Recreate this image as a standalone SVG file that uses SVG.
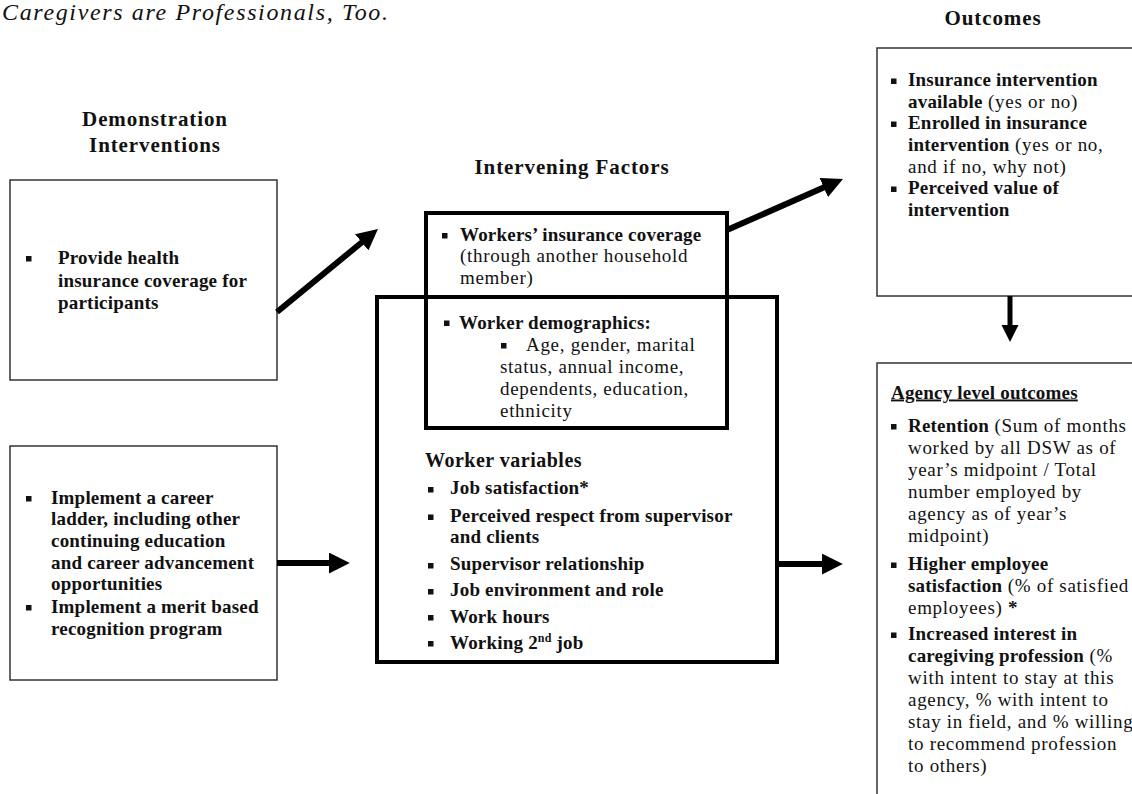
<svg xmlns="http://www.w3.org/2000/svg" width="1132" height="794" viewBox="0 0 1132 794">
<defs>
<style>
text{font-family:"Liberation Serif","Times New Roman",serif;fill:#111;}
.h{font-size:21px;font-weight:bold;letter-spacing:0.9px;text-anchor:middle;}
.b{font-size:19px;font-weight:bold;letter-spacing:0.2px;}
.r{font-size:19px;font-weight:normal;letter-spacing:0.7px;}
.thin{fill:#fff;stroke:#333;stroke-width:1.5;}
.thick{fill:none;stroke:#000;stroke-width:4;}
.bul{fill:#111;}
.arr{stroke:#000;stroke-width:6;fill:none;marker-end:url(#ah);}
</style>
<marker id="ah" viewBox="0 0 10 10" refX="2" refY="5" markerWidth="3.5" markerHeight="3.5" markerUnits="strokeWidth" orient="auto">
<path d="M0,0 L10,5 L0,10 z" fill="#000"/>
</marker>
</defs>
<rect width="1132" height="794" fill="#fff"/>

<text x="2" y="20" textLength="386" lengthAdjust="spacing" style="font-size:24px;font-style:italic">Caregivers are Professionals, Too.</text>

<g id="headings">
<text class="h" x="155" y="126">Demonstration</text>
<text class="h" x="155" y="152">Interventions</text>
<text class="h" x="572" y="174">Intervening Factors</text>
<text class="h" x="993" y="25">Outcomes</text>
</g>

<g id="intervention-insurance">
<rect class="thin" x="10" y="180" width="267" height="200"/>
<rect class="bul" x="26" y="256" width="5.5" height="5.5"/>
<text class="b" x="58" y="264">Provide health</text>
<text class="b" x="58" y="286.5">insurance coverage for</text>
<text class="b" x="58" y="309">participants</text>
</g>

<g id="intervention-career">
<rect class="thin" x="10" y="446" width="267" height="234"/>
<rect class="bul" x="26" y="496" width="5.5" height="5.5"/>
<text class="b" x="51" y="503.5">Implement a career</text>
<text class="b" x="51" y="525">ladder, including other</text>
<text class="b" x="51" y="547">continuing education</text>
<text class="b" x="51" y="568.5">and career advancement</text>
<text class="b" x="51" y="590">opportunities</text>
<rect class="bul" x="26" y="605" width="5.5" height="5.5"/>
<text class="b" x="51" y="612.5">Implement a merit based</text>
<text class="b" x="51" y="634.5">recognition program</text>
</g>

<g id="worker-variables">
<rect class="thick" x="377" y="297" width="400" height="365"/>
<text x="425" y="466.5" style="font-size:20px;font-weight:bold;letter-spacing:0.5px">Worker variables</text>
<rect class="bul" x="428" y="487" width="5.5" height="5.5"/>
<text class="b" x="450" y="494">Job satisfaction*</text>
<rect class="bul" x="428" y="514.5" width="5.5" height="5.5"/>
<text class="b" x="450" y="521.5">Perceived respect from supervisor</text>
<text class="b" x="450" y="542.5">and clients</text>
<rect class="bul" x="428" y="563" width="5.5" height="5.5"/>
<text class="b" x="450" y="570">Supervisor relationship</text>
<rect class="bul" x="428" y="589" width="5.5" height="5.5"/>
<text class="b" x="450" y="596">Job environment and role</text>
<rect class="bul" x="428" y="615" width="5.5" height="5.5"/>
<text class="b" x="450" y="622.5">Work hours</text>
<rect class="bul" x="428" y="641" width="5.5" height="5.5"/>
<text class="b" x="450" y="648.5">Working 2<tspan style="font-size:12px" dy="-7">nd</tspan><tspan dy="7"> job</tspan></text>
</g>

<g id="insurance-coverage">
<rect class="thick" x="426" y="213" width="301" height="215"/>
<rect class="bul" x="442" y="233" width="5.5" height="5.5"/>
<text class="b" x="460" y="241">Workers’ insurance coverage</text>
<text class="r" x="460" y="262">(through another household</text>
<text class="r" x="460" y="283.5">member)</text>
<rect class="bul" x="444" y="320.5" width="5.5" height="5.5"/>
<text class="b" x="459" y="328.5">Worker demographics:</text>
<rect class="bul" x="501" y="343" width="5.5" height="5.5"/>
<text class="r" x="526" y="350.5">Age, gender, marital</text>
<text class="r" x="500" y="372.5">status, annual income,</text>
<text class="r" x="500" y="394.5">dependents, education,</text>
<text class="r" x="500" y="416.5">ethnicity</text>
</g>

<g id="outcomes-insurance">
<rect class="thin" x="877" y="48" width="300" height="248"/>
<rect class="bul" x="891" y="78.5" width="5.5" height="5.5"/>
<text class="b" x="908" y="86">Insurance intervention</text>
<text x="908" y="107.5"><tspan class="b">available</tspan><tspan class="r"> (yes or no)</tspan></text>
<rect class="bul" x="891" y="121.5" width="5.5" height="5.5"/>
<text class="b" x="908" y="129">Enrolled in insurance</text>
<text x="908" y="150.5"><tspan class="b">intervention</tspan><tspan class="r"> (yes or no,</tspan></text>
<text class="r" x="908" y="172.5">and if no, why not)</text>
<rect class="bul" x="891" y="186.5" width="5.5" height="5.5"/>
<text class="b" x="908" y="194">Perceived value of</text>
<text class="b" x="908" y="215.5">intervention</text>
</g>

<g id="outcomes-agency">
<rect class="thin" x="877" y="363" width="300" height="500"/>
<text class="b" x="891" y="398.5" style="text-decoration:underline">Agency level outcomes</text>
<rect class="bul" x="891" y="424" width="5.5" height="5.5"/>
<text x="908" y="431.5"><tspan class="b">Retention</tspan><tspan class="r"> (Sum of months</tspan></text>
<text class="r" x="908" y="453.5">worked by all DSW as of</text>
<text class="r" x="908" y="475.5">year’s midpoint / Total</text>
<text class="r" x="908" y="497.5">number employed by</text>
<text class="r" x="908" y="519.5">agency as of year’s</text>
<text class="r" x="908" y="541.5">midpoint)</text>
<rect class="bul" x="891" y="562.5" width="5.5" height="5.5"/>
<text class="b" x="908" y="570">Higher employee</text>
<text x="908" y="592"><tspan class="b">satisfaction</tspan><tspan class="r"> (% of satisfied</tspan></text>
<text class="r" x="908" y="614">employees) <tspan class="b">*</tspan></text>
<rect class="bul" x="891" y="632.5" width="5.5" height="5.5"/>
<text class="b" x="908" y="640">Increased interest in</text>
<text x="908" y="662"><tspan class="b">caregiving profession</tspan><tspan class="r"> (%</tspan></text>
<text class="r" x="908" y="684">with intent to stay at this</text>
<text class="r" x="908" y="706">agency, % with intent to</text>
<text class="r" x="908" y="728">stay in field, and % willing</text>
<text class="r" x="908" y="750">to recommend profession</text>
<text class="r" x="908" y="772">to others)</text>
</g>

<g id="connectors">
<line class="arr" x1="277" y1="312" x2="365" y2="239.7"/>
<line class="arr" x1="277" y1="563" x2="333" y2="563"/>
<line class="arr" x1="727" y1="230" x2="827.6" y2="185.8"/>
<line class="arr" x1="777" y1="564" x2="826" y2="564"/>
<line class="arr" x1="1010" y1="296" x2="1010" y2="328" style="stroke-width:5"/>
</g>
</svg>
